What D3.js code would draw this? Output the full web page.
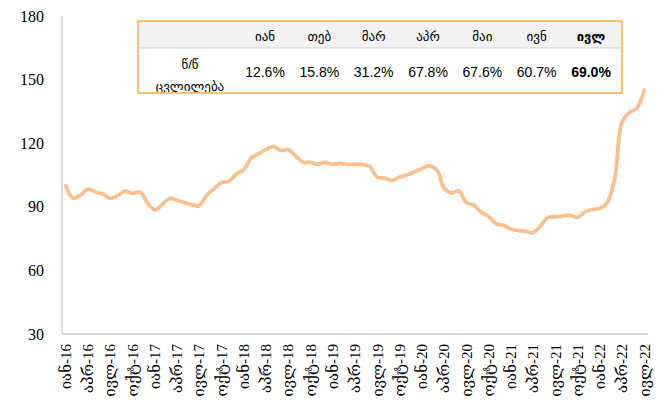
<!DOCTYPE html>
<html><head><meta charset="utf-8">
<script src="https://cdn.jsdelivr.net/npm/d3@7"></script>
<style>
html,body{margin:0;padding:0;background:#fff;}
svg{display:block;}
</style></head>
<body>
<svg id="chart" width="668" height="412"></svg>
<script>
// ---- data ----
const tickLabels = ["იან-16","აპრ-16","ივლ-16","ოქტ-16","იან-17","აპრ-17","ივლ-17","ოქტ-17","იან-18","აპრ-18","ივლ-18","ოქტ-18","იან-19","აპრ-19","ივლ-19","ოქტ-19","იან-20","აპრ-20","ივლ-20","ოქტ-20","იან-21","აპრ-21","ივლ-21","ოქტ-21","იან-22","აპრ-22","ივლ-22"];
const values = [100,94,95.5,98.3,97,96,94,95.2,97.4,96.3,97,92,88.5,91,94,93,92,91,90.5,95.5,98.5,101.5,102,105.5,107.5,113,115,117,118.5,116.5,117,114,111,111,110,111,110,110.5,110,110,110,109,104,103.5,102.5,104,105,106.5,108,109.3,107.5,99,96.5,97.5,92,90.8,87.5,85.5,82,81.4,79.5,78.8,78.5,77.8,81,85,85.3,85.6,86,85,87.5,88.8,89.2,92,103,130,134.5,136.5,145];
const yTicks = [30,60,90,120,150,180];
const tableMonths = ["იან","თებ","მარ","აპრ","მაი","ივნ","ივლ"];
const tableValues = ["12.6%","15.8%","31.2%","67.8%","67.6%","60.7%","69.0%"];
const rowLabel = ["წ/წ","ცვლილება"];

// ---- layout ----
const svg = d3.select("#chart");
const L = 62, R = 648, T = 16, B = 334;
const serif = "'Liberation Serif','DejaVu Serif',serif";
const sans = "'Liberation Sans','DejaVu Sans',sans-serif";

const x = d3.scaleBand().domain(d3.range(values.length)).range([L, R]);
const xc = i => x(i) + x.bandwidth() / 2;
const y = d3.scaleLinear().domain([30, 180]).range([B, T]);

// axes lines
svg.append("line").attr("x1", L).attr("x2", L).attr("y1", T).attr("y2", B)
  .attr("stroke", "#d9d9d9").attr("stroke-width", 2);
svg.append("line").attr("x1", L).attr("x2", R).attr("y1", B).attr("y2", B)
  .attr("stroke", "#d9d9d9").attr("stroke-width", 2);

// y tick labels
svg.append("g").selectAll("text").data(yTicks).join("text")
  .attr("x", 44).attr("y", d => y(d)).attr("dy", "0.35em")
  .attr("text-anchor", "end").attr("font-family", serif).attr("font-size", 16)
  .attr("fill", "#000").text(d => d);

// x tick labels
const tickIdx = tickLabels.map((t, k) => k * 3);
svg.append("g").selectAll("text").data(tickLabels).join("text")
  .attr("transform", (d, k) => `translate(${xc(tickIdx[k])},344) rotate(-90)`)
  .attr("text-anchor", "end").attr("dy", "0.35em")
  .attr("font-family", serif).attr("font-size", 15).attr("fill", "#000")
  .text(d => d);

// line
const line = d3.line().x((d, i) => xc(i)).y(d => y(d)).curve(d3.curveCatmullRom.alpha(0.5));
svg.append("path").datum(values).attr("d", line)
  .attr("fill", "none").attr("stroke", "#FAC08F").attr("stroke-width", 3.8)
  .attr("stroke-linejoin", "round").attr("stroke-linecap", "round");

// ---- table inset ----
const bx0 = 138, bx1 = 622, by0 = 21, by1 = 93, hy = 48;
const g = svg.append("g");
g.append("rect").attr("x", bx0).attr("y", by0).attr("width", bx1 - bx0).attr("height", by1 - by0).attr("fill", "#fff");
g.append("rect").attr("x", bx0).attr("y", by0).attr("width", bx1 - bx0).attr("height", hy - by0).attr("fill", "#f2f2f2");
g.append("line").attr("x1", bx0).attr("x2", bx1).attr("y1", hy).attr("y2", hy).attr("stroke", "#d0d0d0").attr("stroke-width", 1);

const cx = d3.scalePoint().domain(tableMonths).range([265, 591]);
g.selectAll("text.h").data(tableMonths).join("text").attr("class", "h")
  .attr("x", d => cx(d)).attr("y", 41).attr("text-anchor", "middle")
  .attr("font-family", sans).attr("font-size", 13).attr("fill", "#000")
  .attr("font-weight", (d, i) => i === tableMonths.length - 1 ? "bold" : "normal")
  .text(d => d);
g.selectAll("text.v").data(tableValues).join("text").attr("class", "v")
  .attr("x", (d, i) => cx(tableMonths[i])).attr("y", 77).attr("text-anchor", "middle")
  .attr("font-family", sans).attr("font-size", 14).attr("fill", "#000")
  .attr("font-weight", (d, i) => i === tableValues.length - 1 ? "bold" : "normal")
  .text(d => d);

svg.append("clipPath").attr("id", "clipTbl").append("rect")
  .attr("x", bx0).attr("y", by0).attr("width", bx1 - bx0).attr("height", by1 - by0);
g.append("g").attr("clip-path", "url(#clipTbl)").selectAll("text.r").data(rowLabel).join("text")
  .attr("x", 190).attr("y", (d, i) => i === 0 ? 69 : 91).attr("text-anchor", "middle")
  .attr("font-family", sans).attr("font-size", 13).attr("fill", "#000").text(d => d);

g.append("rect").attr("x", bx0).attr("y", by0).attr("width", bx1 - bx0).attr("height", by1 - by0)
  .attr("fill", "none").attr("stroke", "#F9C072").attr("stroke-width", 2);
</script>
</body></html>
